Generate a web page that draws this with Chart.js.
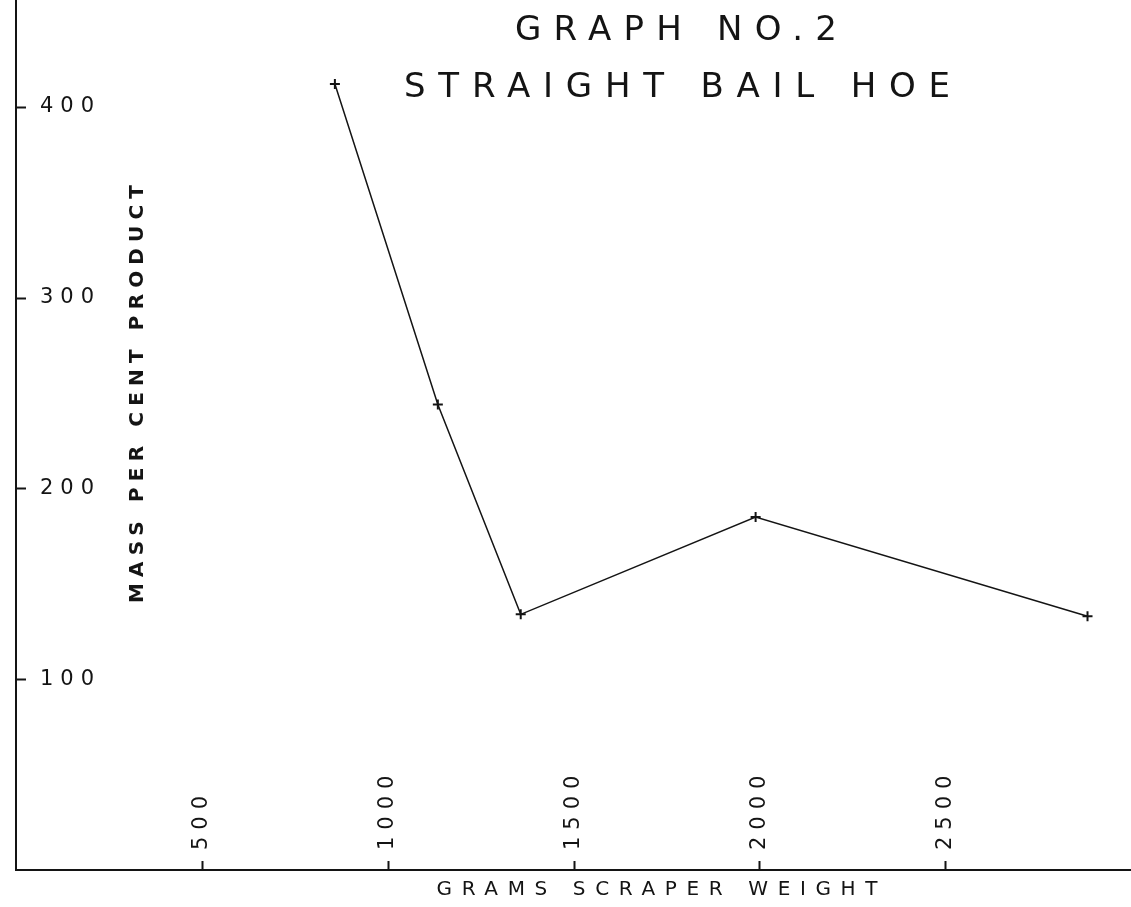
<!DOCTYPE html>
<html>
<head>
<meta charset="utf-8">
<script src="https://cdn.jsdelivr.net/npm/chart.js@4.4.1/dist/chart.umd.min.js"></script>
<style>
html,body{margin:0;padding:0;background:#fff;}
#wrap{width:1131px;height:907px;position:relative;}
</style>
</head>
<body>
<div id="wrap"><canvas id="c"></canvas></div>
<script>
// ---- data ----
const scraperWeightGrams = [858, 1135, 1358, 1990, 2883];
const massPerCentProduct = [412, 244, 134, 185, 133];
const xTickValues = [500, 1000, 1500, 2000, 2500];
const yTickValues = [100, 200, 300, 400];
const titleLines = ['GRAPH NO.2', 'STRAIGHT BAIL HOE'];
const xAxisTitle = 'GRAMS SCRAPER WEIGHT';
const yAxisTitle = 'MASS PER CENT PRODUCT';

const INK = '#141414';
const FONT = '"DejaVu Sans", "Liberation Sans", sans-serif';
const TICK_SIZE = 21;

function spacedText(ctx, text, cx, cy, width, font, rot) {
  ctx.save();
  ctx.font = font;
  ctx.letterSpacing = '0px';
  const w0 = ctx.measureText(text).width;
  const ls = (width - w0) / (text.length - 1);
  ctx.letterSpacing = ls + 'px';
  ctx.translate(cx, cy);
  ctx.rotate(rot || 0);
  ctx.textAlign = 'left';
  ctx.textBaseline = 'middle';
  ctx.fillStyle = INK;
  ctx.fillText(text, -width / 2, 0);
  ctx.restore();
}

const draftingPlugin = {
  id: 'drafting',
  beforeDraw(chart) {
    chart.ctx.letterSpacing = '7px';
  },
  afterDraw(chart) {
    const ctx = chart.ctx;
    const area = chart.chartArea;
    const xs = chart.scales.x, ys = chart.scales.y;
    ctx.save();
    ctx.letterSpacing = '0px';
    ctx.strokeStyle = INK;
    ctx.lineWidth = 2;
    ctx.beginPath();
    ys.ticks.forEach(t => {
      const py = Math.round(ys.getPixelForValue(t.value)) + 0.5;
      ctx.moveTo(area.left, py);
      ctx.lineTo(area.left + 10, py);
    });
    xs.ticks.forEach(t => {
      const px = Math.round(xs.getPixelForValue(t.value)) + 0.5;
      ctx.moveTo(px, area.bottom);
      ctx.lineTo(px, area.bottom - 9);
    });
    ctx.stroke();
    ctx.restore();

    spacedText(ctx, titleLines[0], 676, 31, 322, '34px ' + FONT);
    spacedText(ctx, titleLines[1], 677, 88, 546, '34px ' + FONT);
    spacedText(ctx, xAxisTitle, 657, 890, 441, '20px ' + FONT);
    spacedText(ctx, yAxisTitle, 138, 394, 418, 'bold 20px ' + FONT, -Math.PI / 2);
    ctx.letterSpacing = '0px';
  }
};

const points = scraperWeightGrams.map((g, i) => ({x: g, y: massPerCentProduct[i]}));

new Chart(document.getElementById('c'), {
  type: 'line',
  data: {
    datasets: [{
      data: points,
      borderColor: INK,
      borderWidth: 1.5,
      pointStyle: 'cross',
      pointRadius: 5,
      pointBorderWidth: 2,
      pointBorderColor: INK,
      pointBackgroundColor: INK,
      tension: 0,
      fill: false,
      clip: false
    }]
  },
  options: {
    responsive: true,
    maintainAspectRatio: false,
    animation: false,
    devicePixelRatio: 1,
    layout: {padding: 0, autoPadding: false},
    plugins: {legend: {display: false}, tooltip: {enabled: false}, title: {display: false}},
    scales: {
      x: {
        type: 'linear',
        position: 'bottom',
        min: 0,
        max: 3000,
        grid: {display: false, drawTicks: false},
        border: {display: true, color: INK, width: 2},
        afterBuildTicks: s => { s.ticks = xTickValues.map(v => ({value: v})); },
        ticks: {
          autoSkip: false,
          minRotation: 90,
          maxRotation: 90,
          mirror: true,
          padding: 20,
          labelOffset: TICK_SIZE,
          color: INK,
          font: {family: FONT, size: TICK_SIZE, lineHeight: 1},
          callback: v => String(v)
        },
        afterFit: s => {
          s.height = 37;
          s.paddingLeft = 0; s.paddingRight = 0;
          s._getXAxisLabelAlignment = () => 'left';
        }
      },
      y: {
        type: 'linear',
        position: 'left',
        min: 0,
        max: 456,
        grid: {display: false, drawTicks: false},
        border: {display: true, color: INK, width: 2},
        afterBuildTicks: s => { s.ticks = yTickValues.map(v => ({value: v})); },
        ticks: {
          mirror: true,
          padding: 24,
          color: INK,
          font: {family: FONT, size: TICK_SIZE},
          callback: v => String(v)
        },
        afterFit: s => {
          s.width = 16;
          s.paddingTop = 0; s.paddingBottom = 0;
        }
      }
    }
  },
  plugins: [draftingPlugin]
});
</script>
</body>
</html>
